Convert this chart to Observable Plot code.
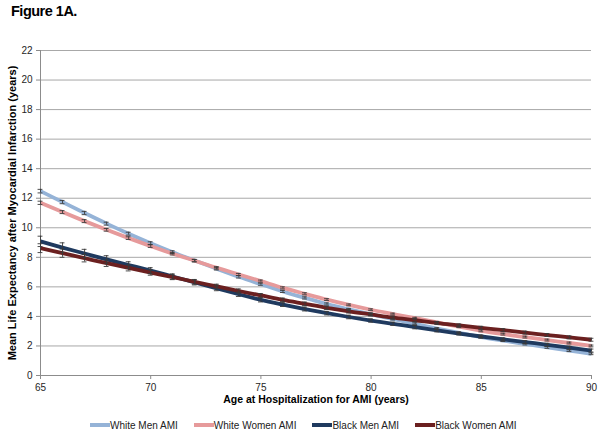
<!DOCTYPE html>
<html>
<head>
<meta charset="utf-8">
<script src="https://cdn.jsdelivr.net/npm/d3@7"></script>
<script src="https://cdn.jsdelivr.net/npm/@observablehq/plot@0.6"></script>
<style>
  html, body { margin: 0; padding: 0; background: #fff; }
  #wrap { position: relative; width: 602px; height: 437px; overflow: hidden; font-family: "Liberation Sans", Arial, sans-serif; }
  #title { position: absolute; left: 11px; top: 3px; font-family: "Liberation Sans", Arial, sans-serif; font-weight: bold; font-size: 14.5px; letter-spacing: -0.5px; color: #000; }
  #chart { position: absolute; left: 0; top: 40px; }
  #legend { position: absolute; left: 90px; top: 418px; height: 14px; white-space: nowrap; font-size: 10px; color: #222; }
  .item { display: inline-flex; align-items: center; margin-right: 16px; }
  .sw { display: inline-block; width: 20px; height: 4px; }
</style>
</head>
<body>
<div id="wrap">
  <div id="title">Figure 1A.</div>
  <div id="chart"></div>
  <div id="legend"></div>
</div>
<script>
const titleText = "Figure 1A.";
const xLabel = "Age at Hospitalization for AMI (years)";
const yLabel = "Mean Life Expectancy after Myocardial Infarction (years)";
const xTicks = [65, 70, 75, 80, 85, 90];
const yTicks = [0, 2, 4, 6, 8, 10, 12, 14, 16, 18, 20, 22];

const seriesNames = ["White Men AMI", "White Women AMI", "Black Men AMI", "Black Women AMI"];
const seriesColors = ["#95b3d7", "#e69a9b", "#1f3a5f", "#6b2020"];

const ages = [65,66,67,68,69,70,71,72,73,74,75,76,77,78,79,80,81,82,83,84,85,86,87,88,89,90];

const whiteMen   = [12.48,11.74,11.00,10.28,9.60,8.96,8.35,7.78,7.22,6.68,6.18,5.69,5.25,4.84,4.48,4.14,3.82,3.50,3.18,2.88,2.60,2.36,2.13,1.90,1.68,1.47];
const whiteWomen = [11.69,11.06,10.45,9.86,9.30,8.76,8.24,7.77,7.29,6.84,6.39,5.93,5.53,5.14,4.78,4.45,4.16,3.88,3.60,3.30,3.02,2.80,2.60,2.40,2.20,2.00];
const blackMen   = [9.08,8.66,8.26,7.86,7.48,7.10,6.70,6.30,5.90,5.50,5.12,4.80,4.50,4.22,3.96,3.72,3.50,3.27,3.05,2.84,2.64,2.45,2.26,2.08,1.88,1.69];
const blackWomen = [8.62,8.28,7.94,7.60,7.28,6.97,6.66,6.34,6.03,5.72,5.42,5.12,4.85,4.58,4.34,4.13,3.92,3.74,3.55,3.39,3.23,3.07,2.90,2.74,2.58,2.42];

const whiteMenErr   = [0.12,0.11,0.11,0.10,0.10,0.09,0.09,0.08,0.08,0.08,0.07,0.07,0.07,0.07,0.06,0.06,0.06,0.06,0.06,0.06,0.06,0.06,0.06,0.06,0.06,0.06];
const whiteWomenErr = [0.11,0.10,0.10,0.09,0.09,0.09,0.08,0.08,0.08,0.07,0.07,0.07,0.07,0.06,0.06,0.06,0.06,0.06,0.06,0.06,0.06,0.06,0.06,0.06,0.06,0.06];
const blackMenErr   = [0.35,0.32,0.28,0.25,0.22,0.20,0.18,0.17,0.16,0.15,0.14,0.13,0.13,0.12,0.12,0.11,0.11,0.11,0.10,0.10,0.10,0.10,0.10,0.10,0.10,0.10];
const blackWomenErr = [0.30,0.28,0.25,0.22,0.20,0.18,0.17,0.16,0.15,0.14,0.13,0.12,0.12,0.11,0.11,0.10,0.10,0.10,0.10,0.10,0.10,0.10,0.10,0.10,0.10,0.10];

const seriesValues = [whiteMen, whiteWomen, blackMen, blackWomen];
const seriesErrs = [whiteMenErr, whiteWomenErr, blackMenErr, blackWomenErr];

const rows = [];
seriesNames.forEach((name, i) => {
  ages.forEach((age, j) => {
    rows.push({series: name, age, value: seriesValues[i][j], err: seriesErrs[i][j]});
  });
});

const capHalf = 0.11;

const chart = Plot.plot({
  width: 602,
  height: 370,
  marginTop: 10,
  marginLeft: 40,
  marginRight: 11,
  marginBottom: 35,
  style: {fontFamily: "'Liberation Sans', Arial, sans-serif", fontSize: "10px", color: "#262626", background: "#fff"},
  x: {domain: [65, 90]},
  y: {domain: [0, 22]},
  color: {domain: seriesNames, range: seriesColors},
  marks: [
    Plot.gridY(yTicks.filter(d => d > 0), {stroke: "#a8a8a8", strokeOpacity: 1, strokeWidth: 1}),
    Plot.ruleX([65], {stroke: "#8c8c8c", strokeWidth: 1}),
    Plot.ruleY([0], {stroke: "#8c8c8c", strokeWidth: 1}),
    Plot.axisY(yTicks, {tickSize: 4, tickPadding: 4, stroke: "#8c8c8c", label: null}),
    Plot.axisX(xTicks, {tickSize: 4, tickPadding: 4, stroke: "#8c8c8c", label: null}),
    Plot.line(rows, {x: "age", y: "value", z: "series", stroke: "series", strokeWidth: 3.8, curve: "catmull-rom", strokeLinecap: "butt"}),
    Plot.ruleX(rows, {x: "age", y1: d => d.value - d.err, y2: d => d.value + d.err, stroke: "#3a3a3a", strokeWidth: 0.9}),
    Plot.ruleY(rows, {y: d => d.value + d.err, x1: d => d.age - capHalf, x2: d => d.age + capHalf, stroke: "#3a3a3a", strokeWidth: 0.9}),
    Plot.ruleY(rows, {y: d => d.value - d.err, x1: d => d.age - capHalf, x2: d => d.age + capHalf, stroke: "#3a3a3a", strokeWidth: 0.9}),
    Plot.text([xLabel], {text: d => d, frameAnchor: "bottom", textAnchor: "middle", dy: 27, fontWeight: "bold", fontSize: 10.5, fill: "#000"}),
    Plot.text([yLabel], {text: d => d, frameAnchor: "left", textAnchor: "middle", dx: -28, rotate: -90, fontWeight: "bold", fontSize: 11, fill: "#000"})
  ]
});
document.getElementById("chart").appendChild(chart);

const legend = document.getElementById("legend");
seriesNames.forEach((name, i) => {
  const item = document.createElement("span");
  item.className = "item";
  const sw = document.createElement("span");
  sw.className = "sw";
  sw.style.background = seriesColors[i];
  const t = document.createElement("span");
  t.textContent = name;
  item.appendChild(sw);
  item.appendChild(t);
  legend.appendChild(item);
});
document.getElementById("title").textContent = titleText;
</script>
</body>
</html>
